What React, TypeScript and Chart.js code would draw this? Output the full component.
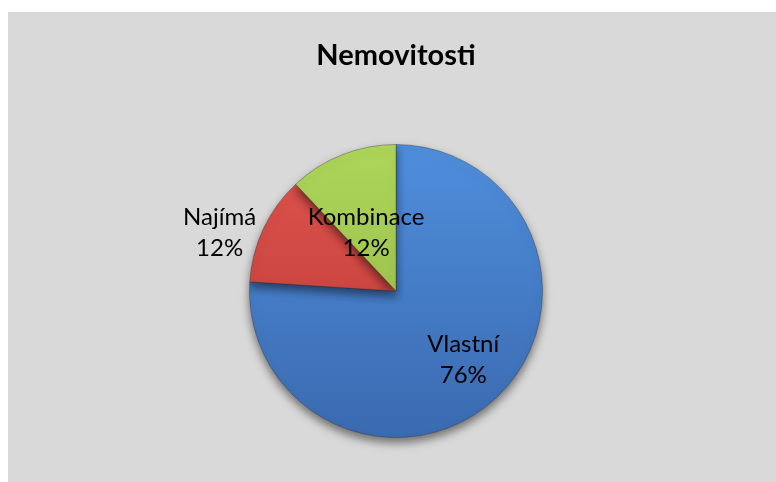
import React, { useEffect, useRef } from "react";
import { Chart, registerables } from "chart.js";

Chart.register(...registerables);

const TITLE = "Nemovitosti";
const CATEGORIES = ["Vlastní", "Najímá", "Kombinace"];
const VALUES = [76, 12, 12];
const PERCENT_LABELS = ["76%", "12%", "12%"];
const COLORS_TOP = ["#4f8edc", "#e0534d", "#aed65a"];
const COLORS_BOTTOM = ["#3a6ab0", "#b83a36", "#8fb344"];
// label centre offsets, relative to pie radius
const LABEL_OFFSETS = [
  [0.459, 0.463],
  [-1.204, -0.401],
  [-0.204, -0.401],
];

const FONT = "Lato, 'Open Sans', sans-serif";

const labelPlugin = {
  id: "pieLabels",
  beforeDatasetsDraw(chart: any) {
    const ctx = chart.ctx;
    ctx.save();
    ctx.shadowColor = "rgba(0,0,0,0.5)";
    ctx.shadowBlur = 10;
    ctx.shadowOffsetX = 0;
    ctx.shadowOffsetY = 5;
    chart.$shadowSaved = true;
  },
  afterDatasetsDraw(chart: any) {
    const ctx = chart.ctx;
    if (chart.$shadowSaved) {
      ctx.restore();
      chart.$shadowSaved = false;
    }
    const meta = chart.getDatasetMeta(0);
    ctx.save();
    ctx.fillStyle = "#000";
    ctx.textAlign = "center";
    ctx.textBaseline = "alphabetic";
    ctx.font = `24px ${FONT}`;
    meta.data.forEach((arc: any, i: number) => {
      const { x, y, outerRadius } = arc.getProps(["x", "y", "outerRadius"], true);
      const cx = x + LABEL_OFFSETS[i][0] * outerRadius;
      const cy = y + LABEL_OFFSETS[i][1] * outerRadius;
      ctx.fillText(CATEGORIES[i], cx, cy - 7);
      ctx.fillText(PERCENT_LABELS[i], cx, cy + 24);
    });
    ctx.restore();
  },
};

function makeGradient(ctx: any, chart: any, i: number) {
  const area = chart.chartArea;
  if (!area) return COLORS_TOP[i];
  const g = ctx.createLinearGradient(0, area.top, 0, area.bottom);
  g.addColorStop(0, COLORS_TOP[i]);
  g.addColorStop(1, COLORS_BOTTOM[i]);
  return g;
}

export default function App() {
  const ref = useRef<HTMLCanvasElement | null>(null);
  useEffect(() => {
    if (!ref.current) return;
    const chart = new Chart(ref.current, {
      type: "pie",
      data: {
        labels: CATEGORIES,
        datasets: [
          {
            data: VALUES,
            backgroundColor: (c: any) => makeGradient(c.chart.ctx, c.chart, c.dataIndex),
            borderColor: "rgba(40,40,40,0.35)",
            borderWidth: 1,
          },
        ],
      },
      options: {
        animation: false,
        responsive: false,
        maintainAspectRatio: false,
        layout: { padding: { top: 0, bottom: 44, left: 8, right: 0 } },
        plugins: {
          legend: { display: false },
          tooltip: { enabled: false },
          title: {
            display: true,
            text: TITLE,
            color: "#000",
            font: { family: FONT, size: 29, weight: "bold" },
            padding: { top: 26, bottom: 71.2 },
          },
        },
      },
      plugins: [labelPlugin],
    });
    return () => chart.destroy();
  }, []);
  return (
    <div
      style={{
        position: "absolute",
        left: 8,
        top: 12,
        width: 768,
        height: 470,
        background: "#d9d9d9",
      }}
    >
      <canvas ref={ref} width={768} height={470} style={{ display: "block" }} />
    </div>
  );
}
